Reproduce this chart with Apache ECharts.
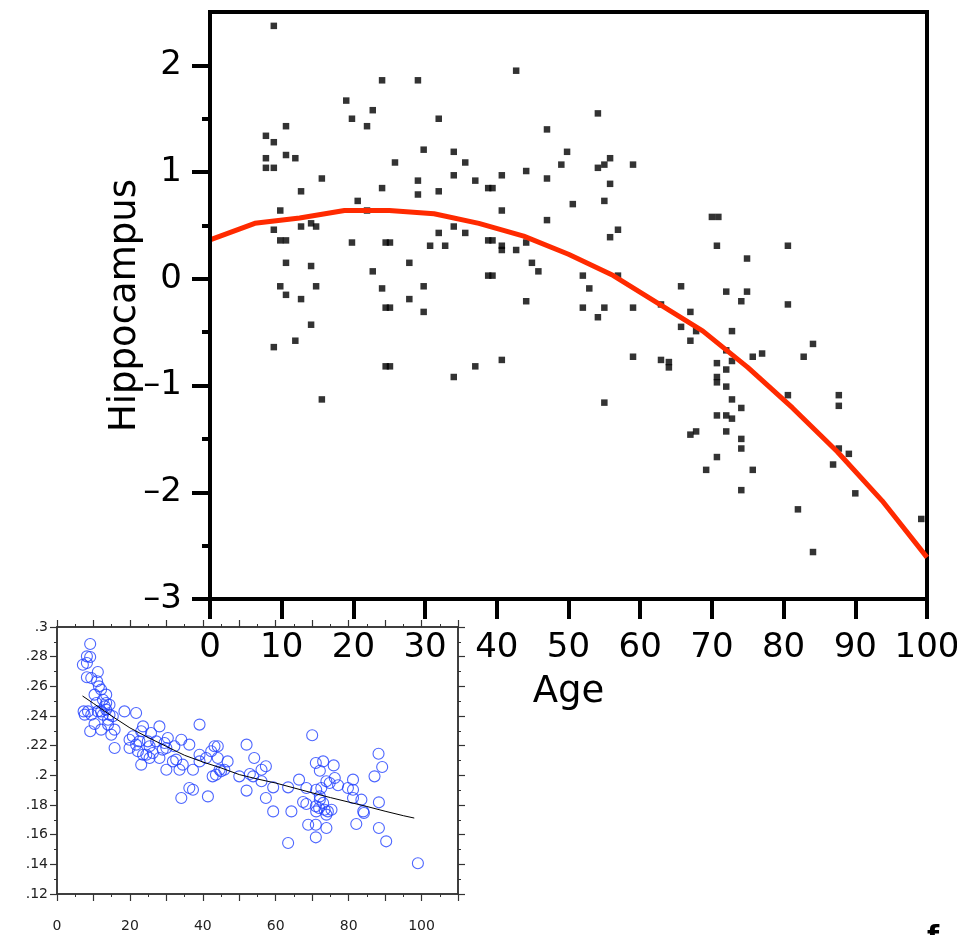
<!DOCTYPE html>
<html>
<head>
<meta charset="utf-8">
<script src="https://cdn.jsdelivr.net/npm/echarts@6/dist/echarts.min.js"></script>
<style>
html,body{margin:0;padding:0;background:#fff;}
#chart{width:957px;height:935px;}
</style>
</head>
<body>
<div id="chart"></div>
<script>
// ---- Main panel: Hippocampus vs Age ----
const mainAges = [8.9,24.0,29.0,19.0,22.7,19.8,21.9,31.9,10.6,7.8,8.9,29.8,34.0,7.8,10.6,11.9,25.8,7.8,8.9,34.0,15.6,24.0,29.0,29.0,31.9,12.7,20.6,9.8,21.9,8.9,12.7,14.1,14.8,9.8,10.6,19.8,24.5,25.1,31.9,34.0,30.7,32.8,10.6,14.1,27.8,22.7,9.8,14.8,29.8,10.6,12.7,24.0,27.8,24.5,25.1,29.8,14.1,11.9,8.9,24.5,25.1,34.0,15.6,
42.7,54.1,47.0,35.6,49.8,49.0,54.1,55.0,55.8,59.0,37.0,40.7,44.1,47.0,38.8,39.4,55.8,55.0,50.6,40.7,47.0,56.9,55.8,35.6,38.8,39.4,40.7,40.7,42.7,44.1,44.9,45.8,38.8,39.4,52.0,56.9,52.9,44.1,52.0,55.0,59.0,54.1,62.9,65.7,67.0,65.7,67.8,67.0,37.0,40.7,59.0,62.9,64.0,64.0,55.0,67.0,67.8,
74.1,80.6,72.8,84.1,72.0,70.7,72.8,75.7,77.0,82.8,72.0,70.7,70.7,72.0,80.6,87.7,87.7,72.8,74.1,70.7,72.0,72.8,72.0,74.1,74.1,87.7,89.1,70.7,86.9,75.7,69.2,74.1,90.0,82.0,99.2,84.1,70.0,70.9,70.7,80.6,74.9,72.0,74.9];
const mainVals = [2.37,1.86,1.86,1.67,1.58,1.50,1.43,1.50,1.43,1.34,1.28,1.21,1.19,1.13,1.16,1.13,1.09,1.04,1.04,0.97,0.94,0.85,0.92,0.79,0.82,0.82,0.73,0.64,0.64,0.46,0.49,0.52,0.49,0.36,0.36,0.34,0.34,0.34,0.43,0.49,0.31,0.31,0.15,0.12,0.15,0.07,-0.07,-0.07,-0.07,-0.15,-0.19,-0.09,-0.19,-0.27,-0.27,-0.31,-0.43,-0.58,-0.64,-0.82,-0.82,-0.92,-1.13,
1.95,1.55,1.40,1.09,1.19,1.07,1.04,1.07,1.13,1.07,0.92,0.97,1.01,0.94,0.85,0.85,0.89,0.73,0.70,0.64,0.55,0.46,0.39,0.43,0.36,0.36,0.31,0.27,0.27,0.34,0.15,0.07,0.03,0.03,0.03,0.03,-0.09,-0.21,-0.27,-0.27,-0.27,-0.36,-0.24,-0.07,-0.31,-0.45,-0.49,-0.58,-0.82,-0.76,-0.73,-0.76,-0.78,-0.83,-1.16,-1.46,-1.43,
-0.21,-0.24,-0.49,-0.61,-0.67,-0.79,-0.77,-0.73,-0.70,-0.73,-0.85,-0.92,-0.97,-1.01,-1.09,-1.09,-1.19,-1.13,-1.21,-1.28,-1.28,-1.31,-1.43,-1.50,-1.59,-1.59,-1.64,-1.67,-1.74,-1.79,-1.79,-1.98,-2.01,-2.16,-2.25,-2.56,0.58,0.58,0.31,0.31,0.19,-0.12,-0.12];

const curveAges = [0,6.25,12.5,18.75,25,31.25,37.5,43.75,50,56.25,62.5,68.75,75,81.25,87.5,93.75,100];
const curveVals = [0.365,0.52,0.57,0.64,0.64,0.61,0.52,0.40,0.23,0.03,-0.23,-0.49,-0.83,-1.21,-1.62,-2.08,-2.61];

const mainYTicks = [-3,-2,-1,0,1,2];
const mainYHalfTicks = [-2.5,-1.5,-0.5,0.5,1.5];

// ---- Inset panel ----
const insetAges = [9.1,8.2,9.1,7.1,8.2,8.2,9.4,11.2,11.0,11.5,10.3,12.1,13.5,12.6,10.8,13.5,7.3,8.5,7.6,9.4,11.2,12.1,13.5,14.4,15.3,14.0,10.3,12.1,9.1,14.0,14.9,15.8,15.8,12.6,14.4,13.1,18.5,21.7,23.6,23.1,19.9,20.8,19.9,21.7,22.6,22.2,23.6,23.1,24.9,25.4,25.8,24.5,25.4,26.3,28.1,27.2,28.1,29.0,29.5,30.4,30.0,30.0,31.8,32.2,32.7,33.6,34.1,34.5,34.1,36.3,36.3,37.3,37.3,39.1,39.1,39.1,41.4,40.9,42.3,43.2,44.1,42.7,43.6,44.1,44.6,45.0,46.8,45.9,50.0,
52.0,52.0,54.1,52.9,53.8,56.1,56.1,57.3,57.3,59.3,59.3,63.4,63.4,64.3,66.4,67.5,68.4,68.4,68.9,70.0,71.0,71.0,71.0,71.1,71.0,71.1,72.1,72.1,72.1,71.9,72.5,73.0,73.0,73.4,73.9,73.9,73.9,74.3,74.8,75.3,75.9,76.2,77.1,79.8,81.2,81.2,81.2,82.1,83.5,84.0,84.2,87.1,88.2,88.3,88.3,89.2,90.3,99.0];
const insetVals = [.2885,.2802,.2798,.2746,.2757,.2661,.2656,.2697,.2634,.2600,.2544,.2578,.2544,.2510,.2488,.2488,.2431,.2431,.2409,.2409,.2431,.2431,.2443,.2409,.2398,.2375,.2346,.2308,.2297,.2342,.2274,.2308,.2184,.2409,.2476,.2465,.2431,.2420,.2330,.2297,.2240,.2263,.2184,.2207,.2229,.2162,.2139,.2072,.2229,.2196,.2285,.2139,.2117,.2151,.2330,.2229,.2117,.2173,.2218,.2252,.2184,.2038,.2094,.2196,.2106,.2038,.2240,.2072,.1847,.2207,.1915,.1903,.2038,.2342,.2139,.2094,.1858,.2117,.2162,.2196,.2196,.1993,.2004,.2117,.2038,.2027,.2094,.2038,.1993,
.2207,.1897,.2117,.2009,.1993,.1960,.2038,.2061,.1847,.1919,.1757,.1919,.1544,.1757,.1971,.1820,.1915,.1807,.1667,.2270,.2083,.1667,.1582,.1903,.1791,.1757,.2031,.1858,.1836,.1780,.1915,.2094,.1814,.1768,.1960,.1645,.1735,.1757,.1948,.1768,.2067,.1982,.1933,.1915,.1971,.1903,.1847,.1672,.1836,.1757,.1746,.1993,.2146,.1818,.1645,.2056,.1555,.1407];

const fitAges = [7,10,15,20,25,30,35,40,45,50,55,60,65,70,75,80,85,90,95,98];
const fitVals = [.2535,.2485,.2400,.2320,.2255,.2195,.2135,.2090,.2050,.2005,.1975,.1948,.1915,.1882,.1850,.1820,.1790,.1758,.1728,.1712];

const insetXLabels = [0,20,40,60,80,100];

// ---- build ----
const zip = (a, b) => a.map((v, i) => [v, b[i]]);
const FONT = 'DejaVu Sans';
const minus = v => v < 0 ? '\u2013' + Math.abs(v) : String(v);
const insetFmt = v => v.toFixed(2).replace(/^0/, '').replace(/0$/, '');

const chart = echarts.init(document.getElementById('chart'), null, {renderer: 'canvas'});
const option = {
  animation: false,
  backgroundColor: '#fff',
  grid: [
    {left: 210, top: 12, width: 717, height: 587, show: true, borderColor: '#000', borderWidth: 4,
     backgroundColor: 'transparent', outerBoundsMode: 'none', containLabel: false},
    {left: 57, top: 627, width: 401, height: 267, show: true, borderColor: '#333', borderWidth: 1.5,
     backgroundColor: '#fff', outerBoundsMode: 'none', containLabel: false}
  ],
  xAxis: [
    {gridIndex: 0, type: 'value', position: 'bottom', min: 0, max: 100, interval: 10, z: 10,
     name: 'Age', nameLocation: 'middle', nameGap: 75, nameMoveOverlap: false,
     nameTextStyle: {fontFamily: FONT, fontSize: 37, color: '#000'},
     axisLine: {show: true, onZero: false, lineStyle: {color: '#000', width: 4}},
     axisTick: {show: true, length: 20, lineStyle: {color: '#000', width: 4}},
     axisLabel: {fontFamily: FONT, fontSize: 34, color: '#000', margin: 32},
     splitLine: {show: false}},
    {gridIndex: 1, type: 'value', position: 'bottom', min: 0, max: 110, interval: 10,
     axisLine: {show: true, onZero: false, lineStyle: {color: '#333', width: 1.5}},
     axisTick: {show: true, length: 7, lineStyle: {color: '#333', width: 1.2}},
     minorTick: {show: true, splitNumber: 2, length: 3, lineStyle: {color: '#333', width: 1}},
     axisLabel: {customValues: insetXLabels, fontFamily: FONT, fontSize: 14, color: '#222', margin: 25},
     splitLine: {show: false}, minorSplitLine: {show: false}},
    {gridIndex: 1, type: 'value', position: 'top', min: 0, max: 110, interval: 10,
     axisLine: {show: true, onZero: false, lineStyle: {color: '#333', width: 1.5}},
     axisTick: {show: true, length: 7, lineStyle: {color: '#333', width: 1.2}},
     minorTick: {show: true, splitNumber: 2, length: 3, lineStyle: {color: '#333', width: 1}},
     axisLabel: {show: false}, splitLine: {show: false}}
  ],
  yAxis: [
    {gridIndex: 0, type: 'value', position: 'left', min: -3, max: 2.5, interval: 1, z: 10,
     name: 'Hippocampus', nameLocation: 'middle', nameGap: 66, nameRotate: 90, nameMoveOverlap: false,
     nameTextStyle: {fontFamily: FONT, fontSize: 37, color: '#000'},
     axisLine: {show: true, onZero: false, lineStyle: {color: '#000', width: 4}},
     axisTick: {show: true, length: 18, customValues: mainYTicks, lineStyle: {color: '#000', width: 4}},
     axisLabel: {customValues: mainYTicks, formatter: minus, fontFamily: FONT, fontSize: 34, color: '#000', margin: 28},
     splitLine: {show: false}},
    {gridIndex: 0, type: 'value', position: 'left', offset: 0, min: -3, max: 2.5, interval: 1, z: 10,
     axisLine: {show: false, onZero: false},
     axisTick: {show: true, length: 8, customValues: mainYHalfTicks, lineStyle: {color: '#000', width: 4}},
     axisLabel: {show: false}, splitLine: {show: false}},
    {gridIndex: 1, type: 'value', position: 'left', min: 0.12, max: 0.3, interval: 0.02,
     axisLine: {show: true, onZero: false, lineStyle: {color: '#333', width: 1.5}},
     axisTick: {show: true, length: 7, lineStyle: {color: '#333', width: 1.2}},
     minorTick: {show: true, splitNumber: 2, length: 3, lineStyle: {color: '#333', width: 1}},
     axisLabel: {formatter: insetFmt, fontFamily: FONT, fontSize: 14, color: '#222', margin: 9},
     splitLine: {show: false}, minorSplitLine: {show: false}},
    {gridIndex: 1, type: 'value', position: 'right', min: 0.12, max: 0.3, interval: 0.02,
     axisLine: {show: true, onZero: false, lineStyle: {color: '#333', width: 1.5}},
     axisTick: {show: true, length: 7, lineStyle: {color: '#333', width: 1.2}},
     minorTick: {show: true, splitNumber: 2, length: 3, lineStyle: {color: '#333', width: 1}},
     axisLabel: {show: false}, splitLine: {show: false}}
  ],
  series: [
    {type: 'scatter', xAxisIndex: 0, yAxisIndex: 0, data: zip(mainAges, mainVals),
     symbol: 'rect', symbolSize: 6.5, itemStyle: {color: '#000'}, z: 2},
    {type: 'line', xAxisIndex: 0, yAxisIndex: 0, data: zip(curveAges, curveVals),
     showSymbol: false, symbol: 'none', lineStyle: {color: '#ff2a00', width: 5}, z: 3},
    {type: 'scatter', xAxisIndex: 1, yAxisIndex: 2, data: zip(insetAges, insetVals),
     symbol: 'circle', symbolSize: 11,
     itemStyle: {color: 'rgba(0,0,0,0)', borderColor: '#2040ff', borderWidth: 1.1}, z: 2},
    {type: 'line', xAxisIndex: 1, yAxisIndex: 2, data: zip(fitAges, fitVals),
     showSymbol: false, symbol: 'none', lineStyle: {color: '#000', width: 1}, z: 3}
  ],
  graphic: [
    {type: 'text', left: 927, top: 925, z: 100,
     style: {text: 'f', fontFamily: FONT, fontWeight: 'bold', fontSize: 28, fill: '#000'}}
  ]
};
chart.setOption(option);
</script>
</body>
</html>
